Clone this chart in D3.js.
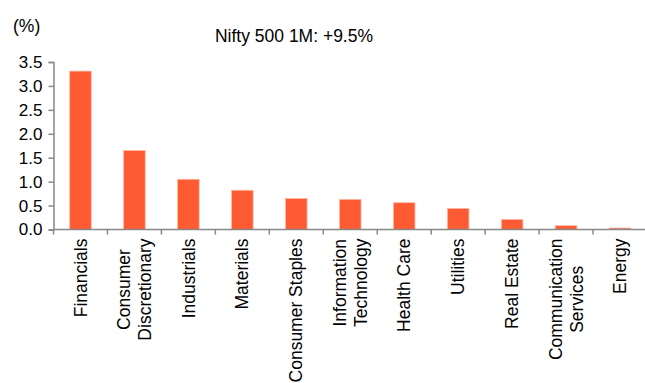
<!DOCTYPE html>
<html>
<head>
<meta charset="utf-8">
<script src="https://cdn.jsdelivr.net/npm/d3@7"></script>
<style>
  body { margin: 0; background: #fff; }
  svg { font-family: "Liberation Sans", Arial, sans-serif; }
</style>
</head>
<body>
<div id="chart"></div>
<script>
// sector contributions to the 1M move
var sectors = ["Financials", "Consumer Discretionary", "Industrials", "Materials", "Consumer Staples",
  "Information Technology", "Health Care", "Utilities", "Real Estate", "Communication Services", "Energy"];
// how each label wraps
var labelLines = [["Financials"], ["Consumer", "Discretionary"], ["Industrials"], ["Materials"], ["Consumer Staples"],
  ["Information", "Technology"], ["Health Care"], ["Utilities"], ["Real Estate"], ["Communication", "Services"], ["Energy"]];
var contrib = [3.31, 1.65, 1.05, 0.82, 0.65, 0.63, 0.56, 0.44, 0.21, 0.08, 0.03];
var yTicks = [0, 0.5, 1.0, 1.5, 2.0, 2.5, 3.0, 3.5];
var title = "Nifty 500 1M: +9.5%";

var width = 645, height = 383;
var plotL = 53.5, plotR = 647, plotT = 62, plotB = 229.5;

var svg = d3.select("#chart").append("svg")
  .attr("width", width)
  .attr("height", height);

var x = d3.scaleBand().domain(sectors).range([plotL, plotR]).paddingInner(0.6).paddingOuter(0.3);
var xb = d3.scaleBand().domain(sectors).range([plotL, plotR]); // full bands for ticks
var y = d3.scaleLinear().domain([0, 3.5]).range([plotB, plotT]);

// bars
svg.selectAll("rect.bar")
  .data(contrib)
  .enter()
  .append("rect")
  .attr("class", "bar")
  .attr("x", function(d, i) { return x(sectors[i]); })
  .attr("y", function(d) { return y(d); })
  .attr("width", x.bandwidth())
  .attr("height", function(d) { return plotB - y(d); })
  .attr("fill", "#ff5b33")
  .attr("stroke", "#ffb9a3")
  .attr("stroke-width", 0.8);

// y axis
var yAxis = svg.append("g")
  .attr("transform", "translate(" + plotL + ",0)")
  .call(d3.axisLeft(y).tickValues(yTicks).tickFormat(d3.format(".1f")).tickSize(5).tickPadding(6));
yAxis.select(".domain").attr("stroke", "#888").attr("stroke-width", 1.5);
yAxis.selectAll(".tick line").attr("stroke", "#888").attr("stroke-width", 1.5);
yAxis.selectAll(".tick text").attr("font-size", 17).attr("fill", "#000")
  .attr("font-family", "Liberation Sans, Arial, sans-serif");

// x axis line with ticks at band edges
svg.append("line")
  .attr("x1", plotL).attr("x2", plotR)
  .attr("y1", plotB).attr("y2", plotB)
  .attr("stroke", "#888").attr("stroke-width", 1.5);
svg.selectAll("line.xtick")
  .data(sectors)
  .enter()
  .append("line")
  .attr("class", "xtick")
  .attr("x1", function(d) { return xb(d); })
  .attr("x2", function(d) { return xb(d); })
  .attr("y1", plotB).attr("y2", plotB + 5)
  .attr("stroke", "#888").attr("stroke-width", 1.5);

// rotated category labels, block right-aligned, lines centred in the block
var lineH = 21;
var labels = svg.selectAll("g.lab")
  .data(labelLines)
  .enter()
  .append("g")
  .attr("class", "lab")
  .attr("transform", function(d, i) {
    return "translate(" + (xb(sectors[i]) + xb.bandwidth() / 2) + "," + (plotB + 9) + ") rotate(-90)";
  });
labels.each(function(lines) {
  var g = d3.select(this);
  var texts = lines.map(function(t, k) {
    return g.append("text")
      .attr("font-size", 17.5)
      .attr("text-anchor", "middle")
      .attr("y", (k - (lines.length - 1) / 2) * lineH)
      .attr("dy", "0.35em")
      .text(t);
  });
  var maxW = d3.max(texts, function(t) { return t.node().getComputedTextLength(); });
  texts.forEach(function(t) { t.attr("x", -maxW / 2); });
});

// title and unit
svg.append("text")
  .attr("x", 294).attr("y", 41.5)
  .attr("text-anchor", "middle")
  .attr("font-size", 17.5)
  .text(title);
svg.append("text")
  .attr("x", 13).attr("y", 32)
  .attr("font-size", 17.5)
  .text("(%)");
</script>
</body>
</html>
